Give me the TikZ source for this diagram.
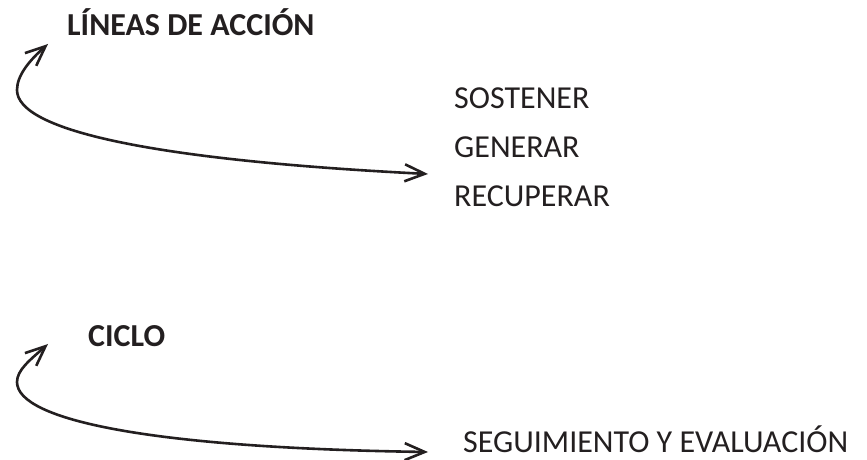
\documentclass[tikz,border=0pt]{standalone}
\usepackage{fontspec}
\setmainfont{Carlito}
\usetikzlibrary{arrows.meta}
\definecolor{ink}{HTML}{231F20}
\begin{document}
\begin{tikzpicture}[x=1pt,y=1pt,
  lbl/.style={anchor=base west,inner sep=0pt,text=ink,font=\fontsize{32}{38}\selectfont},
  ttl/.style={lbl,font=\fontsize{32}{38}\selectfont\bfseries},
  bow/.style={draw=ink,line width=2.6pt,line cap=round,{Straight Barb[length=20pt,width=17pt,line width=2.6pt]}-{Straight Barb[length=20pt,width=17pt,line width=2.6pt]}}]
\useasboundingbox (0,0) rectangle (867,460);
\node[ttl] (t1) at (67,424) {LÍNEAS DE ACCIÓN};
\node[lbl] (s1) at (454,351) {SOSTENER};
\node[lbl] (s2) at (454,302) {GENERAR};
\node[lbl] (s3) at (454,253) {RECUPERAR};
\node[ttl] (t2) at (88,113) {CICLO};
\node[lbl] (s4) at (463,7) {SEGUIMIENTO Y EVALUACIÓN};
\coordinate (a1) at (48,416);
\coordinate (m1) at (17,370);
\coordinate (b1) at (428,286);
\coordinate (a2) at (48,116);
\coordinate (m2) at (17,78);
\coordinate (b2) at (428,8);
\draw[bow] (a1) .. controls (30,400) and (17,385) .. (m1) .. controls (17,330) and (150,300) .. (b1);
\draw[bow] (a2) .. controls (30,100) and (17,90) .. (m2) .. controls (17,40) and (150,12) .. (b2);
\end{tikzpicture}
\end{document}
